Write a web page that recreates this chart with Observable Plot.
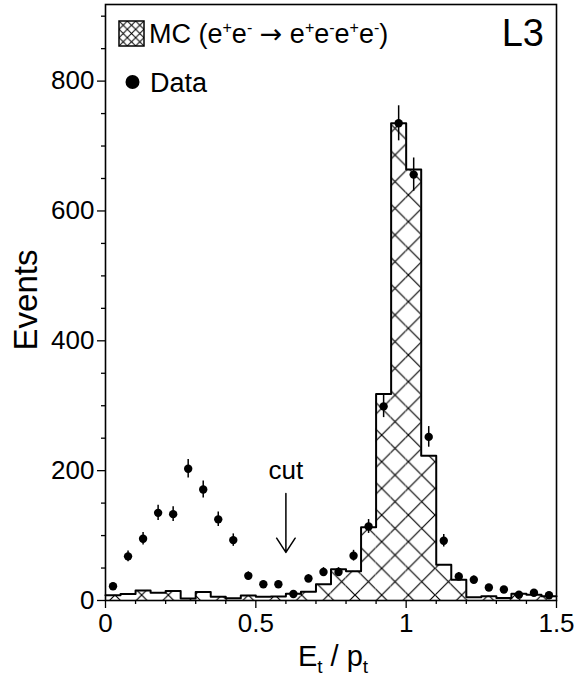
<!DOCTYPE html>
<html>
<head>
<meta charset="utf-8">
<script src="https://cdn.jsdelivr.net/npm/d3@7"></script>
<script src="https://cdn.jsdelivr.net/npm/@observablehq/plot@0.6"></script>
<style>
  html, body { margin: 0; padding: 0; background: #fff; }
  svg { display: block; }
</style>
</head>
<body>
<div id="chart"></div>
<script>
// ---- data ----
const binCenters = [0.025,0.075,0.125,0.175,0.225,0.275,0.325,0.375,0.425,0.475,
                    0.525,0.575,0.625,0.675,0.725,0.775,0.825,0.875,0.925,0.975,
                    1.025,1.075,1.125,1.175,1.225,1.275,1.325,1.375,1.425,1.475];
const binWidth = 0.05;
const mcCounts = [8,10,15.5,12,14.5,3,13,5.7,3.6,7.8,
                  5.7,6,10.4,13.5,25,48,45,113,318,735,
                  664,223,55,32,5,6.7,4,10.4,8.8,6.7];
const dataCounts = [22,68,95,135,133,203,171,125,93,38,
                    25,25,10,34,44,44,69,114,299,735,
                    656,252,92,37,32,20,17,9,12,8];
const dataErrors = [4.7,8.2,9.7,11.6,11.5,14.2,13.1,11.2,9.6,6.2,
                    5,5,3.2,5.8,6.6,6.6,8.3,10.7,17.3,27,
                    25.6,15.9,9.6,6.1,5.7,4.5,4.2,3,3.5,2.8];
const xTicks = [0, 0.5, 1, 1.5];
const xTickLabels = ["0", "0.5", "1", "1.5"];
const xMinorTicks = [0.1,0.2,0.3,0.4,0.6,0.7,0.8,0.9,1.1,1.2,1.3,1.4];
const yTicks = [0, 200, 400, 600, 800];
const yTickLabels = ["0", "200", "400", "600", "800"];
const yMinorTicks = [50,100,150,250,300,350,450,500,550,650,700,750,850,900];
const cutX = [0.6];
const cutArrowFrom = [165];
const cutArrowTo = [74];
const cutLabelY = [200];
const cutLabel = ["cut"];
const xDomain = [0, 1.5];
const yDomain = [0, 918];

// ---- tables built from the arrays ----
const bins = binCenters.map((c, i) => ({
  x1: c - binWidth / 2, x2: c + binWidth / 2, mc: mcCounts[i],
  x: c, n: dataCounts[i], lo: dataCounts[i] - dataErrors[i], hi: dataCounts[i] + dataErrors[i]
}));
const stepPts = bins.map(b => ({x: b.x1, y: b.mc}));
stepPts.push({x: bins[bins.length - 1].x2, y: bins[bins.length - 1].mc});
const cut = cutX.map((x, i) => ({x, y1: cutArrowFrom[i], y2: cutArrowTo[i], ly: cutLabelY[i], t: cutLabel[i]}));

const FONT = "Liberation Sans, Arial, Helvetica, sans-serif";

const svg = Plot.plot({
  width: 577,
  height: 684,
  marginLeft: 105,
  marginRight: 21,
  marginTop: 4,
  marginBottom: 84,
  style: {fontFamily: FONT, fontSize: "26px", background: "white", color: "black", overflow: "visible"},
  x: {domain: xDomain, label: null},
  y: {domain: yDomain, label: null},
  marks: [
    Plot.rectY(bins, {x1: "x1", x2: "x2", y: "mc", fill: "url(#hatchBig)"}),
    Plot.line(stepPts, {x: "x", y: "y", curve: "step-after", stroke: "black", strokeWidth: 2}),
    Plot.ruleX(bins, {x: "x", y1: "lo", y2: "hi", stroke: "black", strokeWidth: 1.5}),
    Plot.dot(bins, {x: "x", y: "n", r: 4.2, fill: "black", stroke: "none"}),
    Plot.arrow(cut, {x1: "x", x2: "x", y1: "y1", y2: "y2", stroke: "black", strokeWidth: 1.5, headLength: 17, headAngle: 66}),
    Plot.text(cut, {x: "x", y: "ly", text: "t", fontSize: 26, fill: "black"}),
    Plot.axisX({ticks: xTicks, tickFormat: d => xTickLabels[xTicks.indexOf(d)], tickSize: 8, tickPadding: 5, fontSize: 26, label: null, strokeWidth: 1.3}),
    Plot.axisX({ticks: xMinorTicks, tickFormat: () => "", tickSize: 4, label: null, strokeWidth: 1.3}),
    Plot.axisY({ticks: yTicks, tickFormat: d => yTickLabels[yTicks.indexOf(d)], tickSize: 8, tickPadding: 3, fontSize: 26, label: null, strokeWidth: 1.3}),
    Plot.axisY({ticks: yMinorTicks, tickFormat: () => "", tickSize: 4, label: null, strokeWidth: 1.3}),
    Plot.frame({stroke: "black", strokeWidth: 1.6})
  ]
});

const s = d3.select(svg);
const defs = s.insert("defs", ":first-child");
function hatch(id, P, ox, oy, sw) {
  const p = defs.append("pattern").attr("id", id).attr("patternUnits", "userSpaceOnUse")
    .attr("width", P).attr("height", P).attr("x", ox).attr("y", oy);
  p.append("rect").attr("width", P).attr("height", P).attr("fill", "white");
  p.append("path").attr("d", `M0,0L${P},${P}M${P},0L0,${P}`).attr("stroke", "black")
    .attr("stroke-width", sw).attr("fill", "none");
}
hatch("hatchBig", 26.67, 8.3, 8.3, 1.2);
hatch("hatchSmall", 8.33, 119, 21, 1);

// legend
const lg = s.append("g").attr("font-family", FONT).attr("fill", "black").attr("text-anchor", "start");
lg.append("rect").attr("x", 119).attr("y", 21).attr("width", 25).attr("height", 25)
  .attr("fill", "url(#hatchSmall)").attr("stroke", "black").attr("stroke-width", 1.5);
const mcText = lg.append("text").attr("x", 149).attr("y", 43).attr("font-size", 27).attr("text-anchor", "start");
function sup(t, ch) { t.append("tspan").attr("font-size", 16).attr("dy", -10).text(ch); }
function base(t, str) { t.append("tspan").attr("font-size", 27).attr("dy", 10).text(str); }
mcText.append("tspan").text("MC (e");
sup(mcText, "+"); base(mcText, "e"); sup(mcText, "-");
base(mcText, " ");
mcText.append("tspan").attr("font-family", "DejaVu Sans").attr("font-size", 27).text("\u2192");
mcText.append("tspan").text(" e");
sup(mcText, "+"); base(mcText, "e"); sup(mcText, "-");
base(mcText, "e"); sup(mcText, "+"); base(mcText, "e"); sup(mcText, "-");
base(mcText, ")");
lg.append("circle").attr("cx", 132.5).attr("cy", 82).attr("r", 7).attr("fill", "black");
lg.append("text").attr("x", 150).attr("y", 91.5).attr("font-size", 27).attr("text-anchor", "start").text("Data");
lg.append("text").attr("x", 544).attr("y", 46).attr("font-size", 38).attr("text-anchor", "end").text("L3");

// axis titles
s.append("text").attr("font-family", FONT).attr("font-size", 33).attr("text-anchor", "middle")
  .attr("transform", "translate(37,300) rotate(-90)").text("Events");
const xt = s.append("text").attr("font-family", FONT).attr("font-size", 29)
  .attr("text-anchor", "middle").attr("x", 333).attr("y", 666);
xt.append("tspan").text("E");
xt.append("tspan").attr("font-size", 19).attr("dy", 7).text("t");
xt.append("tspan").attr("dy", -7).text(" / p");
xt.append("tspan").attr("font-size", 19).attr("dy", 7).text("t");

document.getElementById("chart").appendChild(svg);
</script>
</body>
</html>
